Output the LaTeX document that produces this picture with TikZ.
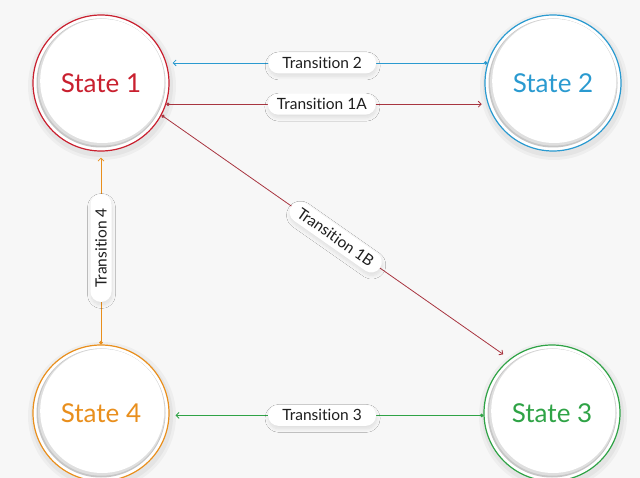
\documentclass[tikz,border=0pt]{standalone}
\usepackage{fontspec}
\setmainfont{Lato}[Ligatures={NoCommon,NoRare}]
\usetikzlibrary{arrows.meta,shapes.misc,shadows.blur,calc}
\definecolor{bgc}{HTML}{F7F7F7}
\definecolor{cred}{HTML}{C9202F}
\definecolor{cdred}{HTML}{A83540}
\definecolor{cblue}{HTML}{2A9AD0}
\definecolor{cgreen}{HTML}{2FA346}
\definecolor{corange}{HTML}{E98F1D}
\definecolor{ctext}{HTML}{1E1E1E}
\tikzset{
  pill/.style={rounded rectangle, fill=white, minimum width=108pt, minimum height=21pt,
    inner sep=0pt, text=ctext, font=\fontsize{15.5}{17}\selectfont,
    blur shadow={shadow blur steps=8, shadow xshift=0.5pt, shadow yshift=-3pt, shadow opacity=10, shadow blur radius=3.5pt}},
  conn/.style={line width=0.8pt, {Circle[length=3.5pt]}-{Straight Barb[length=3pt,width=6pt]}, shorten >=6pt},
  statering/.style={circle, line width=1.2pt, minimum size=136pt, inner sep=0pt,
    font=\fontsize{26}{30}\selectfont},
}
\newcommand\stbubble[5]{%
  \fill[black, opacity=0.035] (#2+1,#3+3) circle (74);
  \fill[black, opacity=0.04] (#2+1,#3+3) circle (71);
  \fill[white] (#2,#3) circle (68);
  \fill[gray!45] (#2,#3) circle (64.5);
  \fill[gray!25] (#2+0.5,#3-0.8) circle (63.5);
  \fill[white] (#2+1.2,#3-2) circle (62);
  \node[statering, draw=#4, text=#4] (#1) at (#2,#3) {#5};
}
\begin{document}
\begin{tikzpicture}[x=1pt,y=-1pt]
\fill[bgc] (0,0) rectangle (640,478);
\useasboundingbox (0,0) rectangle (640,478);
\begin{scope}
\clip (0,0) rectangle (640,478);
\stbubble{s1}{101}{83}{cred}{State 1}
\stbubble{s2}{553}{83}{cblue}{State 2}
\stbubble{s3}{552}{413}{cgreen}{State 3}
\stbubble{s4}{101}{413}{corange}{State 4}
\end{scope}
\draw[conn, cblue] (s2.163) -- node[pill, pos=0.515] {Transition 2} (s1.17);
\draw[conn, cdred] (s1.-18) -- node[pill, pos=0.484] {Transition 1A} (s2.198);
\draw[conn, cdred, shorten >=8pt] (s1.-28) -- node[pill, pos=0.5, sloped] {Transition 1B} (s3.128);
\draw[conn, cgreen] (s3.182) -- node[pill, pos=0.514] {Transition 3} (s4.-2);
\draw[conn, corange] (s4.90) -- node[pill, pos=0.5, sloped] {Transition 4} (s1.-90);
\end{tikzpicture}
\end{document}
